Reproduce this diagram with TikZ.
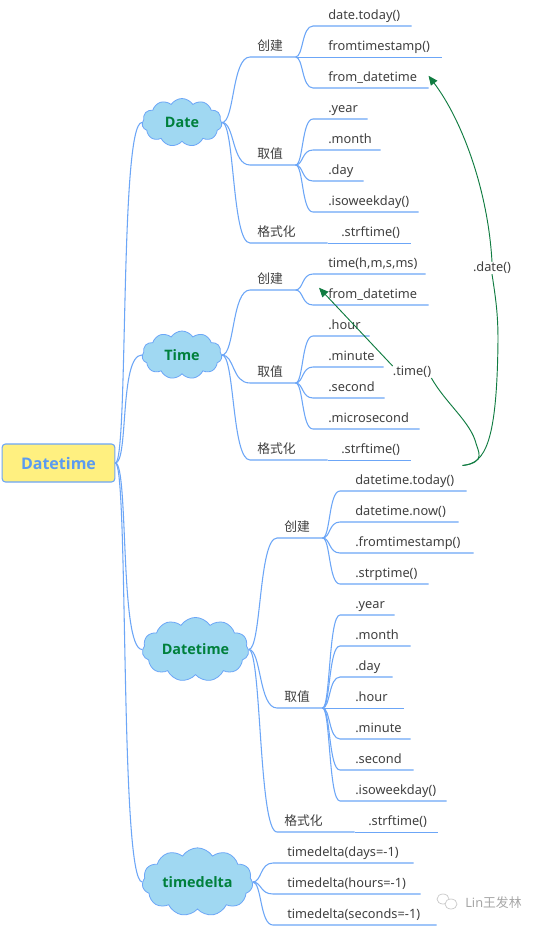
\documentclass[tikz,border=0pt]{standalone}
\usepackage{fontspec}
\setmainfont{Noto Sans}
\newfontfamily\cjkf{Noto Sans CJK SC}
\newfontfamily\titlef{Open Sans}
\usetikzlibrary{calc,shapes.symbols,arrows.meta}
\definecolor{linec}{HTML}{6CA6F7}
\definecolor{cloudc}{HTML}{A0D8F2}
\definecolor{titlec}{HTML}{00803C}
\definecolor{inkc}{HTML}{404040}
\definecolor{rootc}{HTML}{FFF080}
\definecolor{rootink}{HTML}{5B9BF0}
\definecolor{arrowc}{HTML}{107C41}
\tikzset{
  conn/.style={draw=linec,line width=.8pt},
  straightconn/.style={draw=linec,line width=.5pt},
  item/.style={inner sep=0pt,minimum height=18pt,text height=10pt,text depth=1.6pt,text=inkc,font=\fontsize{9.6}{11}\selectfont},
  cloudbox/.style={cloud,cloud puffs=11,cloud puff arc=115,aspect=1.6,draw=linec,fill=cloudc,line width=.6pt,inner sep=0pt,text=titlec,font=\titlef\bfseries\fontsize{10.8}{13}\selectfont},
  rootbox/.style={draw=linec,fill=rootc,rounded corners=2.5pt,line width=.8pt,inner sep=0pt,text=rootink,font=\titlef\bfseries\fontsize{12}{15}\selectfont},
  jump/.style={draw=arrowc,line width=.7pt},
  jumptip/.style={-{Triangle[length=7pt,width=6pt]}},
  jumplabel/.style={inner sep=0pt,text=inkc,font=\fontsize{9.6}{11}\selectfont},
  mark text/.style={text=gray!70,font=\fontsize{9.6}{11}\selectfont},
}
\newcommand\itemat[6]{\node[item,anchor=south west] (#1) at (#2,#4) {\makebox[\dimexpr#3pt*3/4-#2pt*3/4\relax][l]{\hspace{\dimexpr#5pt*3/4\relax}#6}};}
\newcommand\linkto[2]{\draw[conn] (#1) .. controls ($(#1)!.45!(#1 -| #2.south west)$) and ($(#2.south west)!.65!(#2.south west -| #1)$) .. (#2.south west) -- (#2.south east);}
\newcommand\rootto[2]{\draw[conn] (#1) .. controls ($(#1)!.5!(#1 -| #2)$) and ($(#2)!.85!(#2 -| #1)$) .. (#2);}
\begin{document}
\begin{tikzpicture}[x=.75pt,y=-.75pt]
\path[use as bounding box,fill=white] (0,0) rectangle (538,926);
% root and clouds
\node[rootbox,minimum width=84.5pt,minimum height=28.5pt] (root) at (58.5,463) {Datetime};
\node[cloudbox,minimum width=60pt,minimum height=36pt] (cdate) at (182,122.5) {Date\hspace{6pt}};
\node[cloudbox,minimum width=60pt,minimum height=36pt] (ctime) at (182,355) {Time\hspace{6pt}};
\node[cloudbox,aspect=1.85,minimum width=80pt,minimum height=45pt] (cdt) at (195.5,649.5) {Datetime\hspace{6pt}};
\node[cloudbox,aspect=1.8,minimum width=83pt,minimum height=47pt] (cdelta) at (197.5,882) {timedelta\hspace{6pt}};
\rootto{root.east}{cdate.west}
\rootto{root.east}{ctime.west}
\rootto{root.east}{cdt.west}
\rootto{root.east}{cdelta.west}
% Date
\itemat{a1}{250}{295}{57}{7}{\cjkf 创建}
\itemat{a2}{250}{295}{165}{7}{\cjkf 取值}
\itemat{a3}{250}{327}{243}{7}{\cjkf 格式化}
\itemat{a11}{313}{411}{26}{15}{date.today()}
\itemat{a12}{313}{441}{57}{15}{fromtimestamp()}
\itemat{a13}{313}{428}{88}{15}{from\_datetime}
\itemat{a21}{313}{367}{119}{15}{.year}
\itemat{a22}{313}{380}{150}{15}{.month}
\itemat{a23}{313}{363}{181}{15}{.day}
\itemat{a24}{313}{418}{212}{15}{.isoweekday()}
\itemat{a31}{327}{410}{243}{14}{.strftime()}
\foreach \t in {a1,a2,a3}{\linkto{cdate.east}{\t}}
\foreach \t in {a11,a13}{\linkto{a1.south east}{\t}}
\draw[straightconn] (a1.south east) -- (a12.south east);
\foreach \t in {a21,a22,a23,a24}{\linkto{a2.south east}{\t}}
\draw[straightconn] (a3.south east) -- (a31.south east);
% Time
\itemat{b1}{250}{295}{290}{7}{\cjkf 创建}
\itemat{b2}{250}{295}{383}{7}{\cjkf 取值}
\itemat{b3}{250}{327}{460}{7}{\cjkf 格式化}
\itemat{b11}{313}{425}{274}{15}{time(h,m,s,ms)}
\itemat{b12}{313}{428}{305}{15}{from\_datetime}
\itemat{b21}{313}{369}{336}{15}{.hour}
\itemat{b22}{313}{383}{367}{15}{.minute}
\itemat{b23}{313}{384}{398}{15}{.second}
\itemat{b24}{313}{419}{429}{15}{.microsecond}
\itemat{b31}{327}{410}{460}{14}{.strftime()}
\foreach \t in {b1,b2,b3}{\linkto{ctime.east}{\t}}
\foreach \t in {b11,b12}{\linkto{b1.south east}{\t}}
\foreach \t in {b21,b22,b23,b24}{\linkto{b2.south east}{\t}}
\draw[straightconn] (b3.south east) -- (b31.south east);
% Datetime
\itemat{c1}{277}{322}{538}{7}{\cjkf 创建}
\itemat{c2}{277}{322}{708}{7}{\cjkf 取值}
\itemat{c3}{277}{354}{832}{7}{\cjkf 格式化}
\itemat{c11}{340}{466}{491}{15}{datetime.today()}
\itemat{c12}{340}{458}{522}{15}{datetime.now()}
\itemat{c13}{340}{473}{553}{15}{.fromtimestamp()}
\itemat{c14}{340}{428}{584}{15}{.strptime()}
\itemat{c21}{340}{394}{615}{15}{.year}
\itemat{c22}{340}{410}{646}{15}{.month}
\itemat{c23}{340}{392}{677}{15}{.day}
\itemat{c24}{340}{403}{708}{15}{.hour}
\itemat{c25}{340}{410}{739}{15}{.minute}
\itemat{c26}{340}{413}{770}{15}{.second}
\itemat{c27}{340}{446}{801}{15}{.isoweekday()}
\itemat{c31}{354}{437}{832}{14}{.strftime()}
\foreach \t in {c1,c2,c3}{\linkto{cdt.east}{\t}}
\foreach \t in {c11,c12,c13,c14}{\linkto{c1.south east}{\t}}
\foreach \t in {c21,c22,c23,c25,c26,c27}{\linkto{c2.south east}{\t}}
\draw[straightconn] (c2.south east) -- (c24.south east);
\draw[straightconn] (c3.south east) -- (c31.south east);
% timedelta
\itemat{d1}{273}{413}{863}{14}{timedelta(days=-1)}
\itemat{d2}{273}{420}{894}{14}{timedelta(hours=-1)}
\itemat{d3}{273}{436}{925}{14}{timedelta(seconds=-1)}
\foreach \t in {d1,d2,d3}{\linkto{cdelta.east}{\t}}
% jumps
\node[jumplabel] (ldate) at (492,268) {.date()};
\node[jumplabel] (ltime) at (412,372) {.time()};
\coordinate (jumpstart) at ($(c11.north east)+(-4,-1)$);
\coordinate (jumpb) at ($(b12.west)+(6,-5)$);
\draw[jump] (jumpstart) .. controls (486,464) and (497,440) .. (498,340) .. controls (498,315) and (496,300) .. (ldate.south);
\draw[jump,jumptip] (ldate.north) .. controls (488,190) and (462,120) .. (a13.east);
\draw[jump] (jumpstart) .. controls (487,462) and (478,452) .. (475,440) .. controls (468,420) and (445,402) .. (ltime.south east);
\draw[jump,jumptip] (ltime.north west) -- (jumpb);
% watermark
\draw[gray!45,line width=.5pt] (443,899) ellipse [x radius=6,y radius=5];
\draw[gray!45,line width=.5pt,fill=white] (451,904) ellipse [x radius=6,y radius=5];
\node[mark text,anchor=west,inner sep=0pt] (wm) at (465,903) {Lin{\cjkf 王发林}};
\end{tikzpicture}
\end{document}
